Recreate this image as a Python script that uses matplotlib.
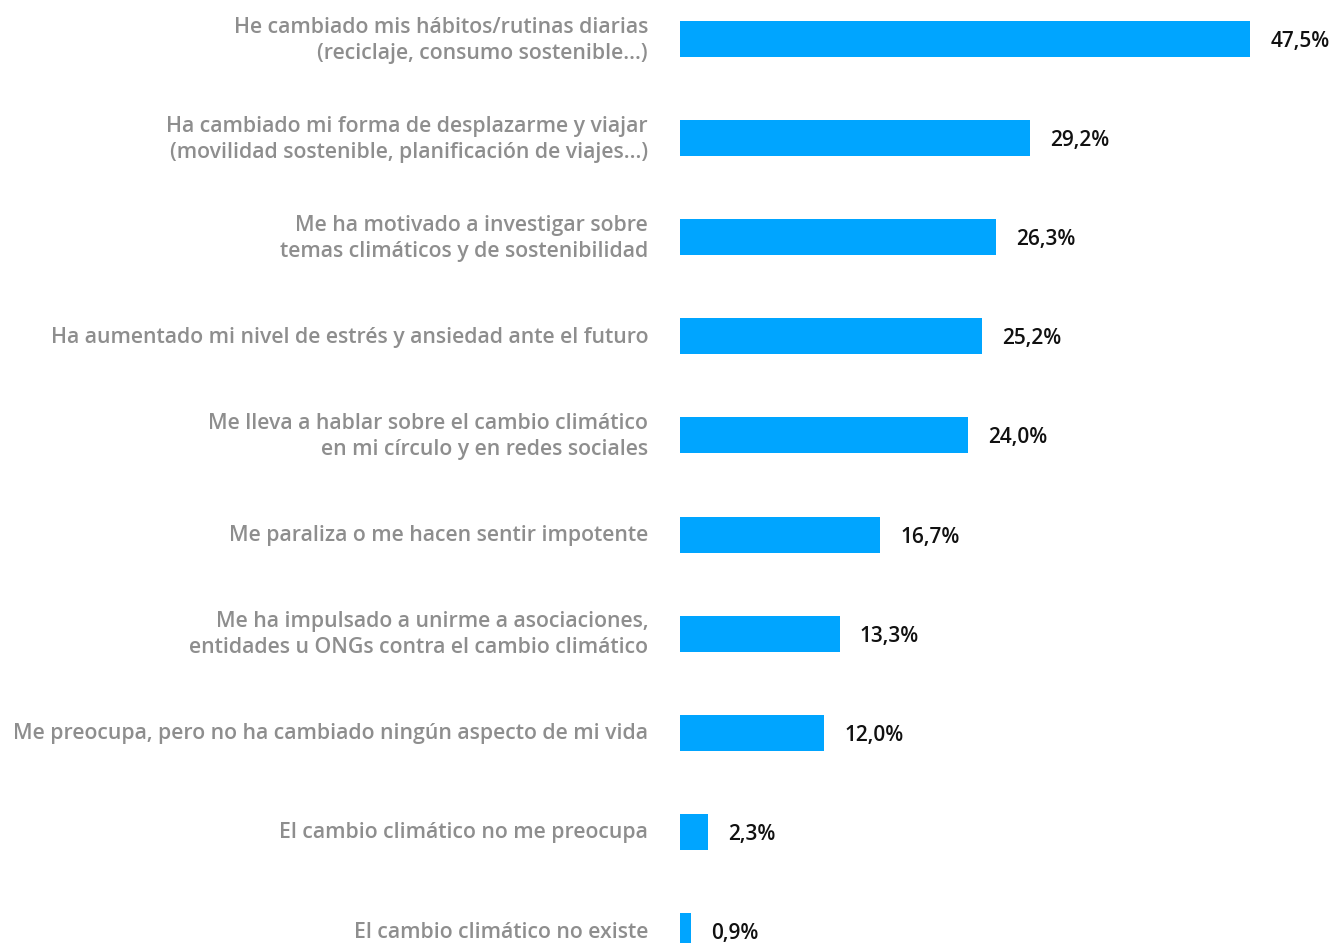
import matplotlib
matplotlib.use("Agg")
import matplotlib.pyplot as plt

categories = [
    "He cambiado mis hábitos/rutinas diarias\n(reciclaje, consumo sostenible...)",
    "Ha cambiado mi forma de desplazarme y viajar\n(movilidad sostenible, planificación de viajes...)",
    "Me ha motivado a investigar sobre\ntemas climáticos y de sostenibilidad",
    "Ha aumentado mi nivel de estrés y ansiedad ante el futuro",
    "Me lleva a hablar sobre el cambio climático\nen mi círculo y en redes sociales",
    "Me paraliza o me hacen sentir impotente",
    "Me ha impulsado a unirme a asociaciones,\nentidades u ONGs contra el cambio climático",
    "Me preocupa, pero no ha cambiado ningún aspecto de mi vida",
    "El cambio climático no me preocupa",
    "El cambio climático no existe",
]
values = [47.5, 29.2, 26.3, 25.2, 24.0, 16.7, 13.3, 12.0, 2.3, 0.9]
value_labels = ["47,5%", "29,2%", "26,3%", "25,2%", "24,0%", "16,7%", "13,3%", "12,0%", "2,3%", "0,9%"]

W, H = 1334, 943
fig = plt.figure(figsize=(W / 100, H / 100), dpi=100)
fig.patch.set_facecolor("white")

left = 680 / W
ax = fig.add_axes([left, 0, (W - 680) / W, 1])
ax.set_xlim(0, (W - 680) / 12.0)
ax.set_ylim((H - 39) / 99.1, -39 / 99.1)

pos = list(range(len(values)))
ax.barh(pos, values, height=36 / 99.1, color="#00A5FF", edgecolor="none")

for y, v, lab in zip(pos, values, value_labels):
    ax.annotate(lab, xy=(v, y), xytext=(14.5, -1.8), textcoords="offset points",
                ha="left", va="center", fontsize=15, family="Open Sans",
                fontweight="semibold", color="#111111")

for y, cat in zip(pos, categories):
    ax.annotate(cat, xy=(0, y), xytext=(-23, -0.8), textcoords="offset points",
                ha="right", va="center", fontsize=15.3, family="Open Sans",
                fontweight="semibold", color="#8E8E8E", linespacing=1.3,
                multialignment="right", annotation_clip=False)

ax.axis("off")
fig.savefig("out.png", dpi=100, facecolor="white")
